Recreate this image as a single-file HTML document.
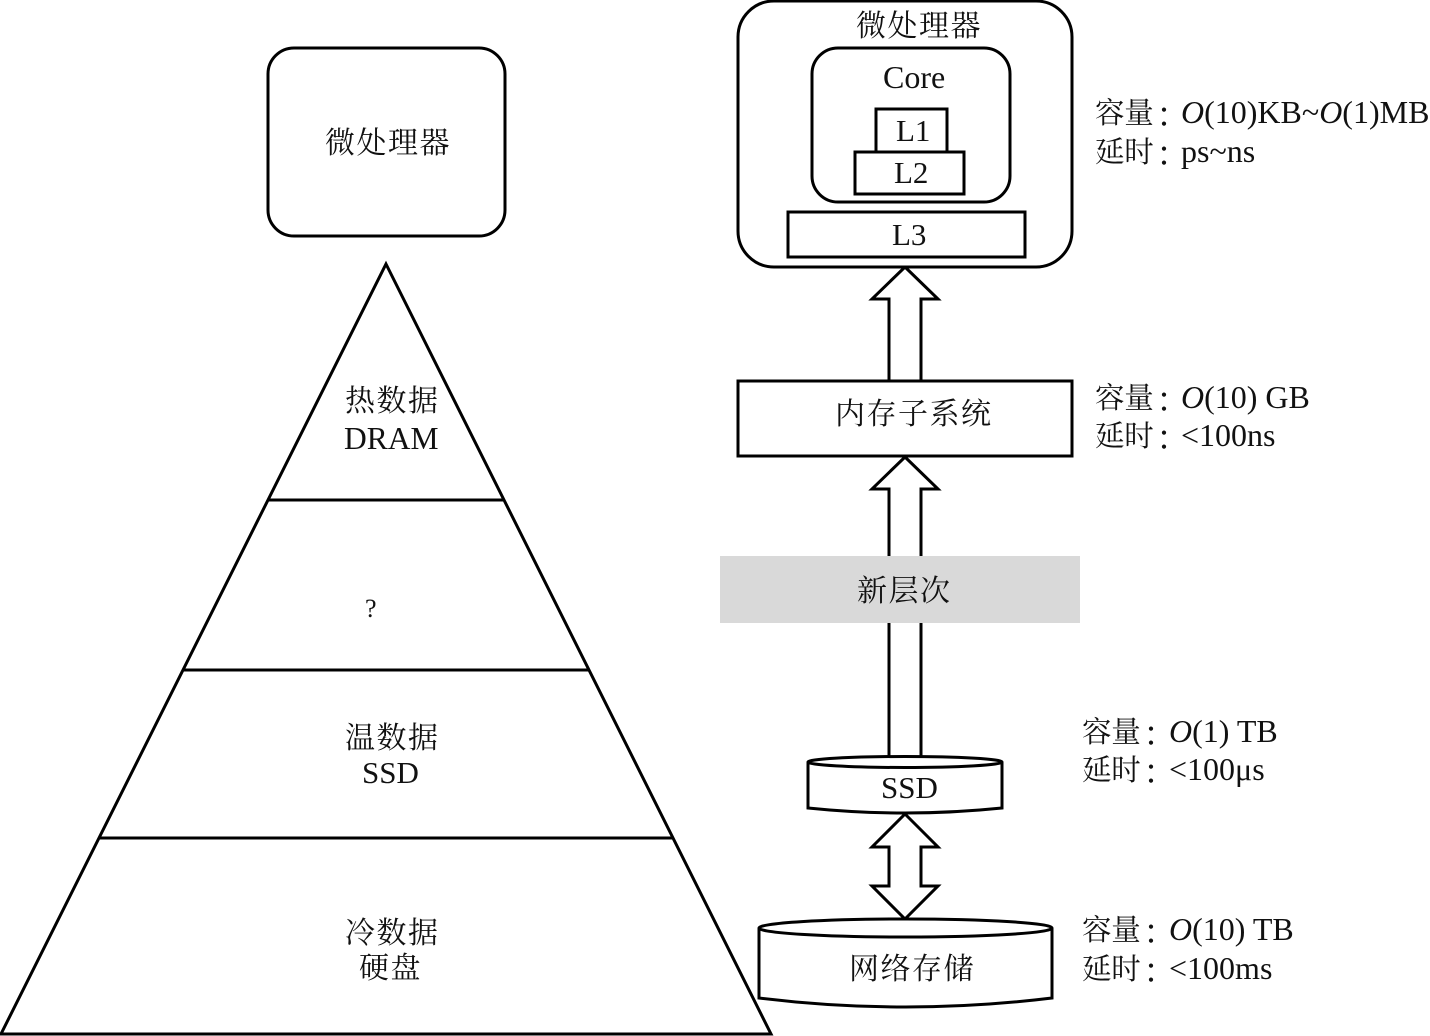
<!DOCTYPE html>
<html lang="zh">
<head>
<meta charset="utf-8">
<style>
html,body{margin:0;padding:0;background:#fff;width:1430px;height:1036px;overflow:hidden}
svg{display:block}
text{font-family:"Liberation Serif","Noto Serif CJK SC",serif;font-size:31px;fill:#111}
.c{font-size:30px;letter-spacing:1.5px}
.l{font-size:32px}
.k{font-size:29.5px;letter-spacing:-.2px}
.o{font-family:"Noto Sans CJK TC","Liberation Sans",sans-serif;font-size:28px}
.s{fill:#fff;stroke:#000;stroke-width:3}
.n{fill:none;stroke:#000;stroke-width:3}
</style>
</head>
<body>
<svg width="1430" height="1036" viewBox="0 0 1430 1036" xmlns="http://www.w3.org/2000/svg">
<!-- Left -->
<rect class="s" x="268" y="48" width="237" height="188" rx="26"/>
<text class="c" x="325" y="153">微处理器</text>
<path class="s" d="M386 264 L771 1034 L1 1034 Z"/>
<path class="n" d="M269 500H503M184 670H589M99 838H674"/>
<text class="c" x="345" y="411">热数据</text>
<text x="344" y="449" style="font-size:31.5px">DRAM</text>
<text x="365" y="617" style="font-size:26px">?</text>
<text class="c" x="345" y="748">温数据</text>
<text x="362" y="783">SSD</text>
<text class="c" x="345" y="943">冷数据</text>
<text class="c" x="359" y="978">硬盘</text>

<!-- Right: arrows -->
<path class="s" d="M905 267 L938 299 H921 V381 H889 V299 H872 Z"/>
<path class="s" d="M905 457 L938 489 H921 V757 H889 V489 H872 Z"/>
<path class="s" d="M905 814 L938 847 H921 V886 H938 L905 919 L872 886 H889 V847 H872 Z"/>

<!-- Processor -->
<rect class="s" x="738" y="1" width="334" height="266" rx="36"/>
<text class="c" x="856" y="36">微处理器</text>
<rect class="s" x="812" y="48" width="198" height="154" rx="26"/>
<text x="883" y="88" style="font-size:32px">Core</text>
<rect class="s" x="876" y="109" width="71" height="43"/>
<text x="896" y="141">L1</text>
<rect class="s" x="855" y="152" width="109" height="42"/>
<text x="894" y="183">L2</text>
<rect class="s" x="788" y="212" width="237" height="45"/>
<text x="892" y="245">L3</text>

<!-- Memory -->
<rect class="s" x="738" y="381" width="334" height="75"/>
<text class="c" x="835" y="424">内存子系统</text>

<!-- New layer -->
<rect x="720" y="556" width="360" height="67" fill="#d9d9d9"/>
<text class="c" x="857" y="601">新层次</text>

<!-- SSD -->
<path class="s" d="M808 762 V808 Q905 818 1002 808 V762"/>
<ellipse class="s" cx="905" cy="762" rx="97" ry="5.5"/>
<text x="881" y="798">SSD</text>

<!-- Network -->
<path class="s" d="M759 928 V998 Q905 1016 1052 998 V928"/>
<ellipse class="s" cx="905.5" cy="928" rx="146.5" ry="9"/>
<text class="c" x="849" y="979">网络存储</text>

<!-- Labels -->
<text class="k" x="1095" y="123">容量</text><text class="o" x="1150" y="127">：</text><text class="l" x="1181" y="123"><tspan font-style="italic">O</tspan>(10)KB~<tspan font-style="italic">O</tspan>(1)MB</text>
<text class="k" x="1095" y="162">延时</text><text class="o" x="1150" y="166">：</text><text class="l" x="1181" y="162">ps~ns</text>

<text class="k" x="1095" y="408">容量</text><text class="o" x="1150" y="412">：</text><text class="l" x="1181" y="408"><tspan font-style="italic">O</tspan>(10) GB</text>
<text class="k" x="1095" y="446">延时</text><text class="o" x="1150" y="450">：</text><text class="l" x="1181" y="446">&lt;100ns</text>

<text class="k" x="1082" y="742">容量</text><text class="o" x="1137" y="746">：</text><text class="l" x="1169" y="742"><tspan font-style="italic">O</tspan>(1) TB</text>
<text class="k" x="1082" y="780">延时</text><text class="o" x="1137" y="784">：</text><text class="l" x="1169" y="780">&lt;100μs</text>

<text class="k" x="1082" y="940">容量</text><text class="o" x="1137" y="944">：</text><text class="l" x="1169" y="940"><tspan font-style="italic">O</tspan>(10) TB</text>
<text class="k" x="1082" y="979">延时</text><text class="o" x="1137" y="983">：</text><text class="l" x="1169" y="979">&lt;100ms</text>
</svg>
</body>
</html>
